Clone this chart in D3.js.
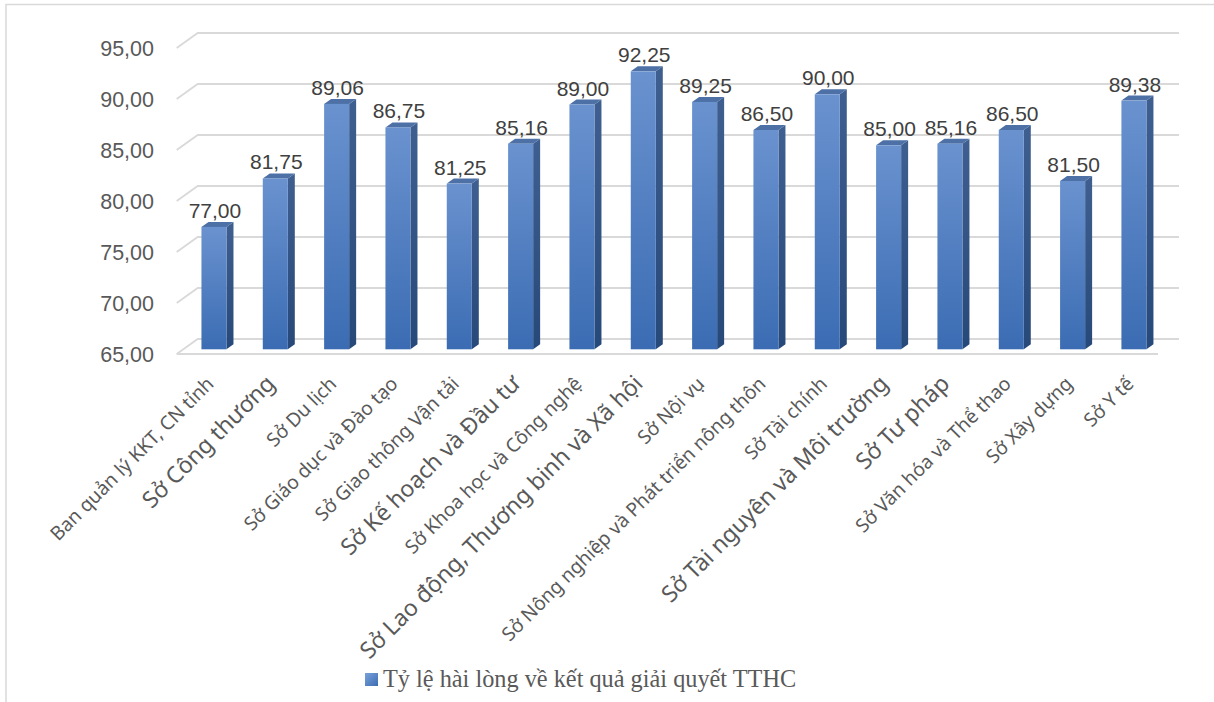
<!DOCTYPE html>
<html>
<head>
<meta charset="utf-8">
<script src="https://cdn.jsdelivr.net/npm/d3@7"></script>
<style>
  html, body { margin: 0; padding: 0; background: #fff; }
  svg { display: block; }
  .cat { font-family: 'Noto Sans', 'Open Sans', sans-serif; }
</style>
</head>
<body>
<svg id="chart" width="1214" height="702"></svg>
<script>
// Satisfaction rate with administrative procedure results, by agency
const categories = [
  "Ban quản lý KKT, CN tỉnh",
  "Sở Công thương",
  "Sở Du lịch",
  "Sở Giáo dục và Đào tạo",
  "Sở Giao thông Vận tải",
  "Sở Kế hoạch và Đầu tư",
  "Sở Khoa học và Công nghệ",
  "Sở Lao động, Thương binh và Xã hội",
  "Sở Nội vụ",
  "Sở Nông nghiệp và Phát triển nông thôn",
  "Sở Tài chính",
  "Sở Tài nguyên và Môi trường",
  "Sở Tư pháp",
  "Sở Văn hóa và Thể thao",
  "Sở Xây dựng",
  "Sở Y tế"
];
const values = [77.00, 81.75, 89.06, 86.75, 81.25, 85.16, 89.00, 92.25, 89.25, 86.50, 90.00, 85.00, 85.16, 86.50, 81.50, 89.38];
// labels that are set in a larger type
const largeLabels = [false, true, false, false, false, true, false, true, false, false, false, true, true, false, false, false];
const yTicks = [65, 70, 75, 80, 85, 90, 95];
const seriesName = "Tỷ lệ hài lòng về kết quả giải quyết TTHC";

const fmt = v => v.toFixed(2).replace(".", ",");

const svg = d3.select("#chart");

// chart area frame
svg.append("path")
  .attr("d", "M6,702 V4.5 H1214")
  .attr("fill", "none").attr("stroke", "#d9d9d9").attr("stroke-width", 1.5);

// 3D geometry: back wall plane and the depth offset of the floor
const DX = 21, DY = 15;          // floor depth (back wall -> front edge)
const BAR_DX = 14.4, BAR_DY = 10.3; // bar front plane, measured from back wall
const SIDE_DX = 7, SIDE_DY = 5;  // bar thickness

const y = d3.scaleLinear().domain([65, 95]).range([339, 33]);
const x = d3.scaleBand().domain(categories).range([197.7, 1179]).paddingInner(0.592).paddingOuter(0.296);

const defs = svg.append("defs");
const gFront = defs.append("linearGradient").attr("id", "gFront").attr("x1", 0).attr("y1", 0).attr("x2", 0).attr("y2", 1);
gFront.append("stop").attr("offset", "0%").attr("stop-color", "#6a92cf");
gFront.append("stop").attr("offset", "100%").attr("stop-color", "#3b6cb3");
const gSide = defs.append("linearGradient").attr("id", "gSide").attr("x1", 0).attr("y1", 0).attr("x2", 0).attr("y2", 1);
gSide.append("stop").attr("offset", "0%").attr("stop-color", "#3e5f90");
gSide.append("stop").attr("offset", "100%").attr("stop-color", "#27497a");
const gLeg = defs.append("linearGradient").attr("id", "gLeg").attr("x1", 0).attr("y1", 0).attr("x2", 1).attr("y2", 1);
gLeg.append("stop").attr("offset", "0%").attr("stop-color", "#7aa2da");
gLeg.append("stop").attr("offset", "100%").attr("stop-color", "#3b6cb3");

const x0 = x.range()[0], x1 = x.range()[1];

// gridlines on the back wall plus the depth segment on the left wall
const grid = svg.append("g").attr("stroke", "#d9d9d9").attr("stroke-width", 1.8).attr("fill", "none");
yTicks.forEach(t => {
  const yy = y(t);
  grid.append("path").attr("d", `M${x0 - DX},${yy + DY} L${x0},${yy} H${x1}`);
});
// floor front edge
grid.append("path").attr("d", `M${x0 - DX},${y(65) + DY} H${x1 - DX}`);

// y axis labels
svg.append("g").selectAll("text").data(yTicks).join("text")
  .attr("x", 154).attr("y", d => y(d) + DY)
  .attr("dy", "0.35em")
  .attr("text-anchor", "end")
  .attr("font-family", "Liberation Sans, Arial, sans-serif")
  .attr("font-size", 21.5)
  .attr("fill", "#595959")
  .text(fmt);

// bars
const bars = svg.append("g").selectAll("g").data(values).join("g");
const bw = x.bandwidth();
const fx = (i) => x(categories[i]) - BAR_DX;
const fyTop = v => y(v) + BAR_DY;
const fyBot = y(65) + BAR_DY;

bars.append("path") // side face
  .attr("d", (v, i) => {
    const l = fx(i) + bw, t = fyTop(v);
    return `M${l},${t} L${l + SIDE_DX},${t - SIDE_DY} V${fyBot - SIDE_DY} L${l},${fyBot} Z`;
  })
  .attr("fill", "url(#gSide)");
bars.append("path") // top face
  .attr("d", (v, i) => {
    const l = fx(i), t = fyTop(v);
    return `M${l},${t} L${l + SIDE_DX},${t - SIDE_DY} H${l + bw + SIDE_DX} L${l + bw},${t} Z`;
  })
  .attr("fill", "#4d71a6");
bars.append("rect") // front face
  .attr("x", (v, i) => fx(i))
  .attr("y", v => fyTop(v))
  .attr("width", bw)
  .attr("height", v => fyBot - fyTop(v))
  .attr("fill", "url(#gFront)");

// value labels
svg.append("g").selectAll("text").data(values).join("text")
  .attr("x", (v, i) => fx(i) + bw / 2 + 1)
  .attr("y", v => fyTop(v) - 9)
  .attr("text-anchor", "middle")
  .attr("font-family", "Liberation Sans, Arial, sans-serif")
  .attr("font-size", 21)
  .attr("fill", "#404040")
  .text(fmt);

// category labels, rotated
svg.append("g").selectAll("text").data(categories).join("text")
  .attr("class", "cat")
  .attr("transform", (c, i) => `translate(${fx(i) + bw / 2 + 1},${385}) rotate(-45)`)
  .attr("text-anchor", "end")
  .attr("font-size", (c, i) => largeLabels[i] ? 23 : 19.2)
  .attr("fill", "#595959")
  .text(c => c);

// legend
const leg = svg.append("g").attr("transform", "translate(365,673)");
leg.append("rect").attr("width", 13).attr("height", 13).attr("fill", "url(#gLeg)");
leg.append("text")
  .attr("x", 18).attr("y", 13.5)
  .attr("font-family", "Liberation Serif, Times New Roman, serif")
  .attr("font-size", 24.3)
  .attr("fill", "#595959")
  .text(seriesName);
</script>
</body>
</html>
